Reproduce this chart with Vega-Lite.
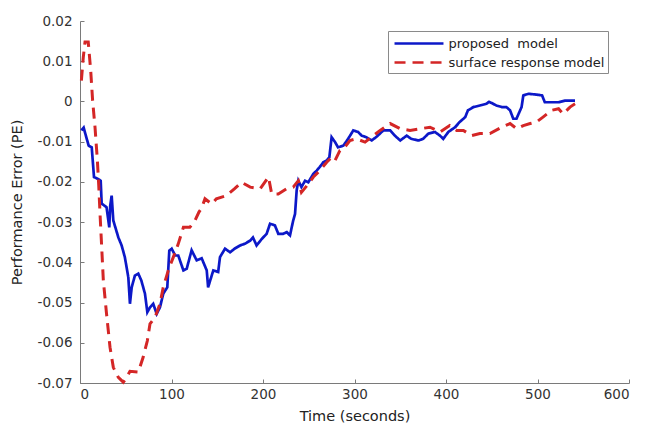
{
  "$schema": "https://vega.github.io/schema/vega-lite/v6.json",
  "width": 549,
  "height": 362,
  "autosize": {"type": "none"},
  "padding": {"left": 80, "top": 21, "right": 18, "bottom": 46},
  "background": "white",
  "config": {
    "view": {"stroke": null},
    "font": "DejaVu Sans",
    "axis": {
      "grid": false,
      "domainColor": "#7a7a7a",
      "tickColor": "#7a7a7a",
      "labelColor": "#333333",
      "titleColor": "#222222",
      "labelFont": "DejaVu Sans",
      "titleFont": "DejaVu Sans",
      "labelFontSize": 13.5,
      "titleFontSize": 14.5,
      "titleFontWeight": "normal",
      "tickSize": -4
    }
  },
  "datasets": {
    "proposed": [
      {"t":1.5,"v":-0.0072},{"t":4,"v":-0.0065},{"t":7,"v":-0.009},{"t":9.5,"v":-0.011},{"t":12.8,"v":-0.0114},{"t":15.3,"v":-0.0188},{"t":19,"v":-0.0192},{"t":22.6,"v":-0.0197},{"t":23.7,"v":-0.0254},{"t":29,"v":-0.0263},{"t":32,"v":-0.0313},{"t":33,"v":-0.026},{"t":34.6,"v":-0.0234},{"t":36.4,"v":-0.0296},{"t":41.9,"v":-0.0338},{"t":45.5,"v":-0.0358},{"t":49,"v":-0.0387},{"t":52.8,"v":-0.0437},{"t":54.6,"v":-0.0503},{"t":56.5,"v":-0.0462},{"t":60,"v":-0.0433},{"t":63.7,"v":-0.0428},{"t":67,"v":-0.0445},{"t":71,"v":-0.0478},{"t":73.6,"v":-0.0524},{"t":76.5,"v":-0.0512},{"t":80,"v":-0.0503},{"t":83.8,"v":-0.0528},{"t":87.4,"v":-0.0512},{"t":91,"v":-0.0478},{"t":95.4,"v":-0.0462},{"t":97.6,"v":-0.0371},{"t":100.2,"v":-0.0366},{"t":104,"v":-0.0383},{"t":107.4,"v":-0.0383},{"t":113,"v":-0.042},{"t":116.6,"v":-0.0416},{"t":122,"v":-0.037},{"t":127.5,"v":-0.0395},{"t":133,"v":-0.039},{"t":138.5,"v":-0.042},{"t":140,"v":-0.0462},{"t":145.7,"v":-0.042},{"t":151,"v":-0.0424},{"t":153,"v":-0.0387},{"t":158.5,"v":-0.0366},{"t":164,"v":-0.0375},{"t":169,"v":-0.0366},{"t":175,"v":-0.0358},{"t":180,"v":-0.0354},{"t":186,"v":-0.0346},{"t":189,"v":-0.0338},{"t":193,"v":-0.0358},{"t":198.6,"v":-0.0342},{"t":204,"v":-0.0329},{"t":207.7,"v":-0.0304},{"t":213,"v":-0.0308},{"t":216.7,"v":-0.0329},{"t":222,"v":-0.0329},{"t":226,"v":-0.0325},{"t":229.5,"v":-0.0333},{"t":233,"v":-0.0296},{"t":235,"v":-0.028},{"t":236.8,"v":-0.0221},{"t":238.6,"v":-0.0197},{"t":242,"v":-0.0213},{"t":246,"v":-0.0197},{"t":249.5,"v":-0.0201},{"t":255,"v":-0.018},{"t":258.7,"v":-0.0172},{"t":262,"v":-0.0163},{"t":266,"v":-0.0151},{"t":269.6,"v":-0.0147},{"t":272.5,"v":-0.0139},{"t":275,"v":-0.0089},{"t":278.7,"v":-0.0101},{"t":282,"v":-0.0114},{"t":287.8,"v":-0.011},{"t":293,"v":-0.0093},{"t":298.7,"v":-0.0072},{"t":304,"v":-0.0076},{"t":307.8,"v":-0.0085},{"t":313,"v":-0.0089},{"t":318.8,"v":-0.0097},{"t":324,"v":-0.0088},{"t":331.5,"v":-0.0072},{"t":339,"v":-0.0072},{"t":344,"v":-0.0085},{"t":350,"v":-0.0097},{"t":357,"v":-0.0085},{"t":362,"v":-0.0093},{"t":370,"v":-0.0097},{"t":375,"v":-0.0093},{"t":380.7,"v":-0.008},{"t":388,"v":-0.0076},{"t":393.4,"v":-0.0085},{"t":397,"v":-0.0093},{"t":402.5,"v":-0.0076},{"t":410,"v":-0.0064},{"t":415,"v":-0.0051},{"t":421,"v":-0.0039},{"t":424,"v":-0.0022},{"t":430,"v":-0.0014},{"t":437,"v":-0.001},{"t":444,"v":-0.0006},{"t":447,"v":-0.0001},{"t":450,"v":-0.0004},{"t":455,"v":-0.001},{"t":461,"v":-0.0014},{"t":466,"v":-0.0014},{"t":470,"v":-0.0022},{"t":473.5,"v":-0.0043},{"t":477,"v":-0.0043},{"t":482.6,"v":-0.0014},{"t":484.5,"v":0.0015},{"t":490,"v":0.0019},{"t":499,"v":0.0017},{"t":505,"v":0.0015},{"t":508,"v":-0.0002},{"t":515.5,"v":-0.0002},{"t":523,"v":-0.0002},{"t":530,"v":0.0002},{"t":541,"v":0.0002}
    ],
    "surface": [
      {"t":1.5,"v":0.0052},{"t":3.6,"v":0.011},{"t":5.5,"v":0.0148},{"t":9,"v":0.0148},{"t":11.7,"v":0.0077},{"t":13.8,"v":0.0002},{"t":16.4,"v":-0.0064},{"t":19,"v":-0.0147},{"t":20.5,"v":-0.021},{"t":21.9,"v":-0.028},{"t":23.7,"v":-0.0362},{"t":25.5,"v":-0.0445},{"t":29,"v":-0.0528},{"t":32.8,"v":-0.0611},{"t":36.4,"v":-0.0661},{"t":41.9,"v":-0.0686},{"t":47.3,"v":-0.0698},{"t":50,"v":-0.069},{"t":54.6,"v":-0.0671},{"t":63.7,"v":-0.0673},{"t":69,"v":-0.0636},{"t":73.6,"v":-0.0595},{"t":76.5,"v":-0.0553},{"t":82,"v":-0.0537},{"t":87.4,"v":-0.0503},{"t":91,"v":-0.0462},{"t":96.5,"v":-0.042},{"t":102,"v":-0.0387},{"t":107.4,"v":-0.0354},{"t":113,"v":-0.0313},{"t":120,"v":-0.0313},{"t":125.7,"v":-0.0296},{"t":130,"v":-0.0275},{"t":133,"v":-0.0265},{"t":136.6,"v":-0.0242},{"t":144,"v":-0.0255},{"t":149,"v":-0.0242},{"t":160,"v":-0.0234},{"t":169,"v":-0.0217},{"t":176.7,"v":-0.0201},{"t":186,"v":-0.0213},{"t":197,"v":-0.0217},{"t":206,"v":-0.0188},{"t":209.5,"v":-0.023},{"t":216.7,"v":-0.023},{"t":226,"v":-0.0217},{"t":233,"v":-0.0213},{"t":238.6,"v":-0.0197},{"t":242,"v":-0.0226},{"t":249.5,"v":-0.0205},{"t":255,"v":-0.0188},{"t":262,"v":-0.0172},{"t":269.6,"v":-0.0151},{"t":275,"v":-0.0139},{"t":278.7,"v":-0.0147},{"t":284,"v":-0.0122},{"t":287.8,"v":-0.0118},{"t":295,"v":-0.0097},{"t":302,"v":-0.0093},{"t":311.5,"v":-0.0101},{"t":320.5,"v":-0.0085},{"t":328,"v":-0.0072},{"t":339,"v":-0.0055},{"t":350,"v":-0.0068},{"t":360.7,"v":-0.0072},{"t":371.6,"v":-0.0068},{"t":382.5,"v":-0.0064},{"t":393.4,"v":-0.0076},{"t":404,"v":-0.006},{"t":411.7,"v":-0.0072},{"t":419,"v":-0.0072},{"t":428,"v":-0.0085},{"t":437,"v":-0.008},{"t":448,"v":-0.008},{"t":461,"v":-0.0064},{"t":470,"v":-0.0055},{"t":477.4,"v":-0.0068},{"t":484.5,"v":-0.006},{"t":492,"v":-0.0055},{"t":499,"v":-0.0051},{"t":506,"v":-0.0039},{"t":515.5,"v":-0.0022},{"t":523,"v":-0.0018},{"t":528,"v":-0.0031},{"t":535.5,"v":-0.0014},{"t":541,"v":-0.0006},{"t":544.6,"v":-0.0002}
    ]
  },
  "encoding": {
    "x": {
      "field": "t", "type": "quantitative",
      "scale": {"domain": [0, 600], "nice": false},
      "axis": {"values": [0,100,200,300,400,500,600], "title": "Time (seconds)", "labelPadding": 8, "titlePadding": 9}
    },
    "y": {
      "field": "v", "type": "quantitative",
      "scale": {"domain": [-0.07, 0.02], "nice": false},
      "axis": {"values": [-0.07,-0.06,-0.05,-0.04,-0.03,-0.02,-0.01,0,0.01,0.02], "format": ".2~f", "labelExpr": "replace(datum.label, '\u2212', '-')", "title": "Performance Error (PE)", "labelPadding": 12, "titlePadding": 13}
    }
  },
  "layer": [
    {
      "data": {"name": "proposed"},
      "mark": {"type": "line", "strokeWidth": 2.7},
      "encoding": {
        "color": {"datum": "proposed\u00a0 model", "type": "nominal",
          "scale": {"domain": ["proposed\u00a0 model", "surface response model"], "range": ["#0c18c8", "#d42626"]},
          "legend": {"title": null, "orient": "none", "legendX": 308, "legendY": 10, "symbolType": "M-3.06,0H3.06", "symbolSize": 256, "symbolOffset": 18.5, "symbolStrokeWidth": 2.6, "labelFontSize": 13, "labelColor": "#222222", "labelFont": "DejaVu Sans", "strokeColor": "#8a8a8a", "padding": 3, "rowPadding": 2, "labelOffset": 20, "fillColor": "white"}
        },
        "strokeDash": {"datum": "proposed\u00a0 model", "type": "nominal",
          "scale": {"domain": ["proposed\u00a0 model", "surface response model"], "range": [[1, 0], [11, 7]]},
          "legend": null
        }
      }
    },
    {
      "data": {"name": "surface"},
      "mark": {"type": "line", "strokeWidth": 3},
      "encoding": {
        "color": {"datum": "surface response model", "type": "nominal"},
        "strokeDash": {"datum": "surface response model", "type": "nominal"}
      }
    }
  ]
}
